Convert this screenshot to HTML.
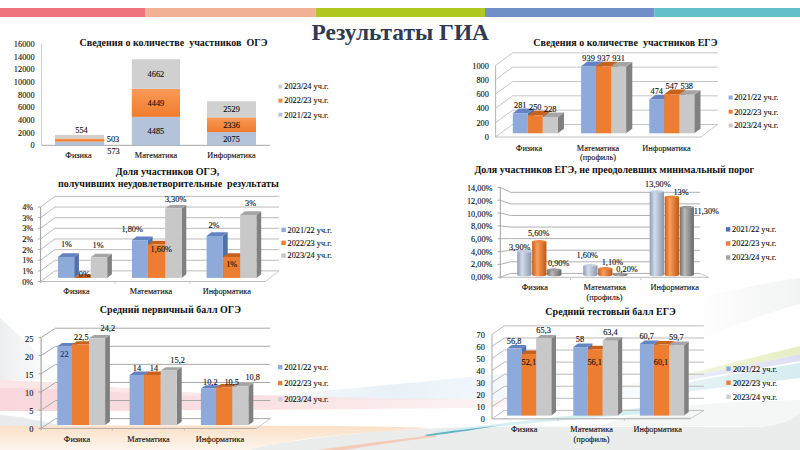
<!DOCTYPE html>
<html><head><meta charset="utf-8"><title>Результаты ГИА</title>
<style>
html,body{margin:0;padding:0;background:#fff;}
body{width:800px;height:450px;overflow:hidden;font-family:"Liberation Serif", serif;}
svg{display:block;font-family:"Liberation Serif", serif;} text{white-space:pre;}
</style></head><body>
<svg width="800" height="450" viewBox="0 0 800 450">
<rect width="800" height="450" fill="#ffffff"/>
<defs>
<linearGradient id="gPink" x1="0" x2="1" y1="0" y2="0"><stop offset="0" stop-color="#f3c9ce" stop-opacity="0.9"/><stop offset="0.5" stop-color="#f6d6d9" stop-opacity="0.7"/><stop offset="1" stop-color="#f8e0e2" stop-opacity="0.3"/></linearGradient>
<linearGradient id="gPeach" x1="0" x2="0" y1="0" y2="1"><stop offset="0" stop-color="#fde9d6"/><stop offset="1" stop-color="#fdf3e8"/></linearGradient>
<linearGradient id="gBlueBg" x1="0" x2="1" y1="0" y2="0"><stop offset="0" stop-color="#e6eef6" stop-opacity="0.9"/><stop offset="1" stop-color="#e6eef6" stop-opacity="0.2"/></linearGradient>
<linearGradient id="gRightBlue" x1="0" x2="1" y1="1" y2="0"><stop offset="0" stop-color="#d9ecf3" stop-opacity="0"/><stop offset="1" stop-color="#cfe8f0" stop-opacity="1"/></linearGradient>
<linearGradient id="gRightYel" x1="0" x2="1" y1="1" y2="0"><stop offset="0" stop-color="#eef3cf" stop-opacity="0"/><stop offset="1" stop-color="#e8efc0" stop-opacity="1"/></linearGradient>
<linearGradient id="gGrayB" x1="0" x2="0" y1="0" y2="1"><stop offset="0" stop-color="#eef0f1"/><stop offset="1" stop-color="#e9ecee"/></linearGradient>
<linearGradient id="orgV" x1="0" x2="0" y1="0" y2="1"><stop offset="0" stop-color="#f99a58"/><stop offset="1" stop-color="#f07c2c"/></linearGradient>
<linearGradient id="cylB" x1="0" x2="1" y1="0" y2="0"><stop offset="0" stop-color="#8e9db6"/><stop offset="0.35" stop-color="#d3dcea"/><stop offset="1" stop-color="#8796b0"/></linearGradient>
<linearGradient id="cylO" x1="0" x2="1" y1="0" y2="0"><stop offset="0" stop-color="#c95b12"/><stop offset="0.35" stop-color="#f9a15f"/><stop offset="1" stop-color="#c0560f"/></linearGradient>
<linearGradient id="cylG" x1="0" x2="1" y1="0" y2="0"><stop offset="0" stop-color="#6d6d6d"/><stop offset="0.35" stop-color="#b9b9b9"/><stop offset="1" stop-color="#666666"/></linearGradient>
</defs>
<linearGradient id="gP2" x1="0" x2="1" y1="0" y2="0"><stop offset="0" stop-color="#f8d8dc"/><stop offset="0.45" stop-color="#f9e0e2"/><stop offset="1" stop-color="#fbe9e9" stop-opacity="0.4"/></linearGradient>
<linearGradient id="gPe" x1="0" x2="0" y1="0" y2="1"><stop offset="0" stop-color="#fbdfc6"/><stop offset="0.5" stop-color="#fcebd9"/><stop offset="1" stop-color="#fdf5ec"/></linearGradient>
<linearGradient id="gBl" x1="0" x2="1" y1="0" y2="0"><stop offset="0" stop-color="#eaf2f8" stop-opacity="0.3"/><stop offset="0.5" stop-color="#e8f1f8"/><stop offset="1" stop-color="#eef5fa" stop-opacity="0.5"/></linearGradient>
<linearGradient id="gCy" x1="0" x2="1" y1="0" y2="0"><stop offset="0" stop-color="#deeff3" stop-opacity="0"/><stop offset="0.5" stop-color="#ddeff3" stop-opacity="0.25"/><stop offset="0.72" stop-color="#ddeff3" stop-opacity="0.85"/><stop offset="1" stop-color="#d6ecf0"/></linearGradient>
<linearGradient id="gYe" x1="0" x2="1" y1="0" y2="0"><stop offset="0" stop-color="#eef3d6" stop-opacity="0"/><stop offset="0.5" stop-color="#ecf2d2" stop-opacity="0.25"/><stop offset="0.72" stop-color="#ecf2d2" stop-opacity="0.85"/><stop offset="1" stop-color="#e6eec2"/></linearGradient>
<linearGradient id="gLa" x1="0" x2="1" y1="0" y2="0"><stop offset="0" stop-color="#e4e6f4" stop-opacity="0"/><stop offset="0.5" stop-color="#e3e6f4" stop-opacity="0.25"/><stop offset="0.72" stop-color="#e3e6f4" stop-opacity="0.85"/><stop offset="1" stop-color="#dde0f1"/></linearGradient>
<path d="M230,398 C320,392 420,382 560,368 L560,398 C420,400 320,401 230,401 Z" fill="url(#gBl)"/>
<path d="M0,380 C60,382 120,389 200,393 C300,397 420,399 560,400 L560,407 C420,408 300,410 200,410 C120,411 60,411 0,411 Z" fill="url(#gP2)"/>
<path d="M0,380 C60,382 120,389 200,393 L200,396 C120,393 60,388 0,388 Z" fill="#fbe8ea" opacity="0.8"/>
<linearGradient id="gLw" x1="0" x2="1" y1="0" y2="0"><stop offset="0" stop-color="#eceef0"/><stop offset="1" stop-color="#f4f5f6" stop-opacity="0"/></linearGradient>
<path d="M0,318 C20,335 40,358 70,380 L0,380 Z" fill="url(#gLw)"/>
<path d="M0,415 C20,416 45,422 75,428 L0,428 Z" fill="#e8ebee"/>
<path d="M600,426 C650,406 700,402 800,400 L800,413 C792,420 780,425 760,426.5 Z" fill="#f5f7f7"/>
<path d="M240,450 C280,442 330,436 380,431 C420,428.5 470,427 520,426.8 C600,427 700,427 760,427 C780,425 792,420 800,413 L800,450 Z" fill="#ebecec"/>
<path d="M0,426 C100,425 250,425.5 330,426 C380,426.5 410,427 430,428 C400,430 370,432 340,435 C300,439 270,444 250,450 L0,450 Z" fill="url(#gPe)"/>
<path d="M430,432 C500,424 560,416 640,408 L640,414 C560,420 500,426 440,433 Z" fill="#d3ecf1" opacity="0.9"/>
<path d="M318,450 C360,444 400,439 435,435 L437,436.5 C400,441 370,446 345,450 Z" fill="#f6c3ab" opacity="0.8"/>
<path d="M424,435 C450,431 475,428 505,425 L508,424.5 C480,428.5 455,433 428,436 Z" fill="#5fb3c2"/>
<linearGradient id="gTr" x1="0" x2="1" y1="0" y2="0"><stop offset="0" stop-color="#f4f4f4" stop-opacity="0"/><stop offset="1" stop-color="#f2f3f3"/></linearGradient>
<path d="M690,300 C730,290 770,282 800,278 L800,304 C770,312 735,325 690,342 Z" fill="url(#gTr)"/>
<path d="M480,400 Q640,385 700,371 Q750,358 800,346 L800,354 Q750,365 700,374 Q640,388 480,401 Z" fill="url(#gYe)"/>
<path d="M480,401 Q640,388 700,374 Q750,365 800,354 L800,361 Q750,370 700,378 Q640,391 480,402 Z" fill="url(#gLa)"/>
<path d="M470,402 Q640,392 700,380 Q750,371 800,363 L800,378 Q750,384 700,390 Q640,398 470,406 Z" fill="url(#gCy)"/>
<rect x="0.00" y="8.00" width="145.50" height="9.00" fill="#ee737b" />
<rect x="145.50" y="8.00" width="170.00" height="9.00" fill="#f2b094" />
<rect x="315.50" y="8.00" width="169.50" height="9.00" fill="#b0c820" />
<rect x="485.00" y="8.00" width="169.50" height="9.00" fill="#7290c8" />
<rect x="654.50" y="8.00" width="145.50" height="9.00" fill="#64c0c8" />
<text x="400.3" y="40.1" font-size="23.4" text-anchor="middle" font-weight="bold" fill="#2e3a50">Результаты ГИА</text>
<text x="173.5" y="45.9" font-size="10" text-anchor="middle" font-weight="bold" fill="#111111">Сведения о количестве  участников  ОГЭ</text>
<text x="34.6" y="148.3" font-size="8.3" text-anchor="end" font-weight="normal" fill="#111111" stroke="#111111" stroke-width="0.12">0</text>
<text x="34.6" y="135.6" font-size="8.3" text-anchor="end" font-weight="normal" fill="#111111" stroke="#111111" stroke-width="0.12">2000</text>
<text x="34.6" y="123.0" font-size="8.3" text-anchor="end" font-weight="normal" fill="#111111" stroke="#111111" stroke-width="0.12">4000</text>
<text x="34.6" y="110.3" font-size="8.3" text-anchor="end" font-weight="normal" fill="#111111" stroke="#111111" stroke-width="0.12">6000</text>
<text x="34.6" y="97.7" font-size="8.3" text-anchor="end" font-weight="normal" fill="#111111" stroke="#111111" stroke-width="0.12">8000</text>
<text x="34.6" y="85.0" font-size="8.3" text-anchor="end" font-weight="normal" fill="#111111" stroke="#111111" stroke-width="0.12">10000</text>
<text x="34.6" y="72.4" font-size="8.3" text-anchor="end" font-weight="normal" fill="#111111" stroke="#111111" stroke-width="0.12">12000</text>
<text x="34.6" y="59.7" font-size="8.3" text-anchor="end" font-weight="normal" fill="#111111" stroke="#111111" stroke-width="0.12">14000</text>
<text x="34.6" y="47.1" font-size="8.3" text-anchor="end" font-weight="normal" fill="#111111" stroke="#111111" stroke-width="0.12">16000</text>
<line x1="41.60" y1="43.50" x2="41.60" y2="145.30" stroke="#c8c8c8" stroke-width="0.9"/>
<line x1="41.60" y1="145.30" x2="270.00" y2="145.30" stroke="#a6a6a6" stroke-width="1.0"/>
<rect x="55.00" y="141.58" width="49.20" height="3.62" fill="#b4c3d9" />
<rect x="55.00" y="138.39" width="49.20" height="3.18" fill="url(#orgV)" />
<rect x="55.00" y="134.89" width="49.20" height="3.50" fill="#d0d0d0" />
<rect x="131.80" y="116.83" width="48.20" height="28.37" fill="#b4c3d9" />
<rect x="131.80" y="88.69" width="48.20" height="28.14" fill="url(#orgV)" />
<rect x="131.80" y="59.21" width="48.20" height="29.49" fill="#d0d0d0" />
<rect x="207.00" y="132.08" width="49.00" height="13.12" fill="#b4c3d9" />
<rect x="207.00" y="117.30" width="49.00" height="14.78" fill="url(#orgV)" />
<rect x="207.00" y="101.30" width="49.00" height="16.00" fill="#d0d0d0" />
<text x="81.5" y="133.3" font-size="8.3" text-anchor="middle" font-weight="normal" fill="#111111" stroke="#111111" stroke-width="0.12">554</text>
<text x="113.0" y="142.3" font-size="8.3" text-anchor="middle" font-weight="normal" fill="#111111" stroke="#111111" stroke-width="0.12">503</text>
<text x="113.5" y="154.4" font-size="8.3" text-anchor="middle" font-weight="normal" fill="#111111" stroke="#111111" stroke-width="0.12">573</text>
<text x="155.9" y="134.1" font-size="8.3" text-anchor="middle" font-weight="normal" fill="#111111" stroke="#111111" stroke-width="0.12">4485</text>
<text x="155.9" y="105.8" font-size="8.3" text-anchor="middle" font-weight="normal" fill="#111111" stroke="#111111" stroke-width="0.12">4449</text>
<text x="155.9" y="77.0" font-size="8.3" text-anchor="middle" font-weight="normal" fill="#111111" stroke="#111111" stroke-width="0.12">4662</text>
<text x="231.5" y="141.7" font-size="8.3" text-anchor="middle" font-weight="normal" fill="#111111" stroke="#111111" stroke-width="0.12">2075</text>
<text x="231.5" y="127.8" font-size="8.3" text-anchor="middle" font-weight="normal" fill="#111111" stroke="#111111" stroke-width="0.12">2336</text>
<text x="231.5" y="112.4" font-size="8.3" text-anchor="middle" font-weight="normal" fill="#111111" stroke="#111111" stroke-width="0.12">2529</text>
<text x="78.5" y="158.2" font-size="8.3" text-anchor="middle" font-weight="normal" fill="#111111" stroke="#111111" stroke-width="0.12">Физика</text>
<text x="156.0" y="158.2" font-size="8.3" text-anchor="middle" font-weight="normal" fill="#111111" stroke="#111111" stroke-width="0.12">Математика</text>
<text x="231.5" y="158.2" font-size="8.3" text-anchor="middle" font-weight="normal" fill="#111111" stroke="#111111" stroke-width="0.12">Информатика</text>
<rect x="278.40" y="84.50" width="4.00" height="4.00" fill="#d0d0d0" />
<text x="284.3" y="89.3" font-size="8.3" text-anchor="start" font-weight="normal" fill="#111111" stroke="#111111" stroke-width="0.12">2023/24 уч.г.</text>
<rect x="278.40" y="98.60" width="4.00" height="4.00" fill="#f4893c" />
<text x="284.3" y="103.4" font-size="8.3" text-anchor="start" font-weight="normal" fill="#111111" stroke="#111111" stroke-width="0.12">2022/23 уч.г.</text>
<rect x="278.40" y="112.70" width="4.00" height="4.00" fill="#b4c3d9" />
<text x="284.3" y="117.5" font-size="8.3" text-anchor="start" font-weight="normal" fill="#111111" stroke="#111111" stroke-width="0.12">2021/22 уч.г.</text>
<text x="625.4" y="45.8" font-size="10" text-anchor="middle" font-weight="bold" fill="#111111">Сведения о количестве  участников ЕГЭ</text>
<line x1="495.60" y1="136.80" x2="512.70" y2="124.50" stroke="#c6c6c6" stroke-width="1.0"/>
<line x1="512.70" y1="124.50" x2="717.90" y2="124.50" stroke="#c6c6c6" stroke-width="1.0"/>
<text x="488.9" y="139.9" font-size="8.3" text-anchor="end" font-weight="normal" fill="#111111" stroke="#111111" stroke-width="0.12">0</text>
<line x1="495.60" y1="122.52" x2="512.70" y2="110.16" stroke="#c6c6c6" stroke-width="1.0"/>
<line x1="512.70" y1="110.16" x2="717.90" y2="110.16" stroke="#c6c6c6" stroke-width="1.0"/>
<text x="488.9" y="125.6" font-size="8.3" text-anchor="end" font-weight="normal" fill="#111111" stroke="#111111" stroke-width="0.12">200</text>
<line x1="495.60" y1="108.24" x2="512.70" y2="95.82" stroke="#c6c6c6" stroke-width="1.0"/>
<line x1="512.70" y1="95.82" x2="717.90" y2="95.82" stroke="#c6c6c6" stroke-width="1.0"/>
<text x="488.9" y="111.3" font-size="8.3" text-anchor="end" font-weight="normal" fill="#111111" stroke="#111111" stroke-width="0.12">400</text>
<line x1="495.60" y1="93.96" x2="512.70" y2="81.48" stroke="#c6c6c6" stroke-width="1.0"/>
<line x1="512.70" y1="81.48" x2="717.90" y2="81.48" stroke="#c6c6c6" stroke-width="1.0"/>
<text x="488.9" y="97.0" font-size="8.3" text-anchor="end" font-weight="normal" fill="#111111" stroke="#111111" stroke-width="0.12">600</text>
<line x1="495.60" y1="79.68" x2="512.70" y2="67.14" stroke="#c6c6c6" stroke-width="1.0"/>
<line x1="512.70" y1="67.14" x2="717.90" y2="67.14" stroke="#c6c6c6" stroke-width="1.0"/>
<text x="488.9" y="82.8" font-size="8.3" text-anchor="end" font-weight="normal" fill="#111111" stroke="#111111" stroke-width="0.12">800</text>
<line x1="495.60" y1="65.40" x2="512.70" y2="52.80" stroke="#c6c6c6" stroke-width="1.0"/>
<line x1="512.70" y1="52.80" x2="717.90" y2="52.80" stroke="#c6c6c6" stroke-width="1.0"/>
<text x="488.9" y="68.5" font-size="8.3" text-anchor="end" font-weight="normal" fill="#111111" stroke="#111111" stroke-width="0.12">1000</text>
<line x1="495.60" y1="65.40" x2="495.60" y2="137.30" stroke="#b8b8b8" stroke-width="1.1"/>
<line x1="495.60" y1="137.00" x2="700.80" y2="137.00" stroke="#bfbfbf" stroke-width="1.0"/>
<line x1="700.80" y1="137.00" x2="717.90" y2="124.20" stroke="#bfbfbf" stroke-width="0.8"/>
<polygon points="527.80,113.20 534.00,108.60 534.00,128.70 527.80,133.30" fill="#5070aa" />
<polygon points="512.80,113.20 519.00,108.60 534.00,108.60 527.80,113.20" fill="#6283c0" />
<rect x="512.80" y="113.20" width="15.00" height="20.10" fill="#8eaadb" />
<polygon points="542.80,115.42 549.00,110.82 549.00,128.70 542.80,133.30" fill="#b35516" />
<polygon points="527.80,115.42 534.00,110.82 549.00,110.82 542.80,115.42" fill="#c4621e" />
<rect x="527.80" y="115.42" width="15.00" height="17.88" fill="#ed7d31" />
<polygon points="557.80,116.99 564.00,112.39 564.00,128.70 557.80,133.30" fill="#808080" />
<polygon points="542.80,116.99 549.00,112.39 564.00,112.39 557.80,116.99" fill="#a5a5a5" />
<rect x="542.80" y="116.99" width="15.00" height="16.31" fill="#c8c8c8" />
<text x="520.3" y="107.7" font-size="8.3" text-anchor="middle" font-weight="normal" fill="#111111" stroke="#111111" stroke-width="0.12">281</text>
<text x="535.3" y="109.9" font-size="8.3" text-anchor="middle" font-weight="normal" fill="#111111" stroke="#111111" stroke-width="0.12">250</text>
<text x="550.3" y="111.5" font-size="8.3" text-anchor="middle" font-weight="normal" fill="#111111" stroke="#111111" stroke-width="0.12">228</text>
<polygon points="596.10,66.13 602.30,61.53 602.30,128.70 596.10,133.30" fill="#5070aa" />
<polygon points="581.10,66.13 587.30,61.53 602.30,61.53 596.10,66.13" fill="#6283c0" />
<rect x="581.10" y="66.13" width="15.00" height="67.17" fill="#8eaadb" />
<polygon points="611.10,66.28 617.30,61.68 617.30,128.70 611.10,133.30" fill="#b35516" />
<polygon points="596.10,66.28 602.30,61.68 617.30,61.68 611.10,66.28" fill="#c4621e" />
<rect x="596.10" y="66.28" width="15.00" height="67.02" fill="#ed7d31" />
<polygon points="626.10,66.71 632.30,62.11 632.30,128.70 626.10,133.30" fill="#808080" />
<polygon points="611.10,66.71 617.30,62.11 632.30,62.11 626.10,66.71" fill="#a5a5a5" />
<rect x="611.10" y="66.71" width="15.00" height="66.59" fill="#c8c8c8" />
<text x="588.6" y="60.6" font-size="8.3" text-anchor="middle" font-weight="normal" fill="#111111" stroke="#111111" stroke-width="0.12">939</text>
<text x="603.6" y="60.7" font-size="8.3" text-anchor="middle" font-weight="normal" fill="#111111" stroke="#111111" stroke-width="0.12">937</text>
<text x="618.6" y="61.2" font-size="8.3" text-anchor="middle" font-weight="normal" fill="#111111" stroke="#111111" stroke-width="0.12">931</text>
<polygon points="664.30,99.39 670.50,94.79 670.50,128.70 664.30,133.30" fill="#5070aa" />
<polygon points="649.30,99.39 655.50,94.79 670.50,94.79 664.30,99.39" fill="#6283c0" />
<rect x="649.30" y="99.39" width="15.00" height="33.91" fill="#8eaadb" />
<polygon points="679.30,94.17 685.50,89.57 685.50,128.70 679.30,133.30" fill="#b35516" />
<polygon points="664.30,94.17 670.50,89.57 685.50,89.57 679.30,94.17" fill="#c4621e" />
<rect x="664.30" y="94.17" width="15.00" height="39.13" fill="#ed7d31" />
<polygon points="694.30,94.82 700.50,90.22 700.50,128.70 694.30,133.30" fill="#808080" />
<polygon points="679.30,94.82 685.50,90.22 700.50,90.22 694.30,94.82" fill="#a5a5a5" />
<rect x="679.30" y="94.82" width="15.00" height="38.48" fill="#c8c8c8" />
<text x="656.8" y="93.9" font-size="8.3" text-anchor="middle" font-weight="normal" fill="#111111" stroke="#111111" stroke-width="0.12">474</text>
<text x="671.8" y="88.6" font-size="8.3" text-anchor="middle" font-weight="normal" fill="#111111" stroke="#111111" stroke-width="0.12">547</text>
<text x="686.8" y="89.3" font-size="8.3" text-anchor="middle" font-weight="normal" fill="#111111" stroke="#111111" stroke-width="0.12">538</text>
<text x="529.0" y="150.9" font-size="8.3" text-anchor="middle" font-weight="normal" fill="#111111" stroke="#111111" stroke-width="0.12">Физика</text>
<text x="598.0" y="150.9" font-size="8.3" text-anchor="middle" font-weight="normal" fill="#111111" stroke="#111111" stroke-width="0.12">Математика</text>
<text x="666.5" y="150.9" font-size="8.3" text-anchor="middle" font-weight="normal" fill="#111111" stroke="#111111" stroke-width="0.12">Информатика</text>
<text x="598.0" y="159.7" font-size="8.3" text-anchor="middle" font-weight="normal" fill="#111111" stroke="#111111" stroke-width="0.12">(профиль)</text>
<rect x="728.60" y="95.50" width="4.00" height="4.00" fill="#8eaadb" />
<text x="734.2" y="100.3" font-size="8.3" text-anchor="start" font-weight="normal" fill="#111111" stroke="#111111" stroke-width="0.12">2021/22 уч.г.</text>
<rect x="728.60" y="109.70" width="4.00" height="4.00" fill="#ed7d31" />
<text x="734.2" y="114.5" font-size="8.3" text-anchor="start" font-weight="normal" fill="#111111" stroke="#111111" stroke-width="0.12">2022/23 уч.г.</text>
<rect x="728.60" y="123.50" width="4.00" height="4.00" fill="#c8c8c8" />
<text x="734.2" y="128.3" font-size="8.3" text-anchor="start" font-weight="normal" fill="#111111" stroke="#111111" stroke-width="0.12">2023/24 уч.г.</text>
<text x="167.5" y="175.4" font-size="10" text-anchor="middle" font-weight="bold" fill="#111111">Доля участников ОГЭ,</text>
<text x="168.4" y="187.1" font-size="10" text-anchor="middle" font-weight="bold" fill="#111111">получивших неудовлетворительные  результаты</text>
<line x1="40.60" y1="281.50" x2="54.90" y2="270.90" stroke="#bcbcbc" stroke-width="1.0"/>
<line x1="54.90" y1="270.90" x2="279.00" y2="270.90" stroke="#bcbcbc" stroke-width="1.0"/>
<text x="33.2" y="284.6" font-size="8.3" text-anchor="end" font-weight="normal" fill="#111111" stroke="#111111" stroke-width="0.12">0%</text>
<line x1="37.80" y1="281.50" x2="40.60" y2="281.50" stroke="#a0a0a0" stroke-width="0.9"/>
<line x1="40.60" y1="270.86" x2="54.90" y2="260.26" stroke="#bcbcbc" stroke-width="1.0"/>
<line x1="54.90" y1="260.26" x2="279.00" y2="260.26" stroke="#bcbcbc" stroke-width="1.0"/>
<text x="33.2" y="273.9" font-size="8.3" text-anchor="end" font-weight="normal" fill="#111111" stroke="#111111" stroke-width="0.12">1%</text>
<line x1="37.80" y1="270.86" x2="40.60" y2="270.86" stroke="#a0a0a0" stroke-width="0.9"/>
<line x1="40.60" y1="260.21" x2="54.90" y2="249.61" stroke="#bcbcbc" stroke-width="1.0"/>
<line x1="54.90" y1="249.61" x2="279.00" y2="249.61" stroke="#bcbcbc" stroke-width="1.0"/>
<text x="33.2" y="263.3" font-size="8.3" text-anchor="end" font-weight="normal" fill="#111111" stroke="#111111" stroke-width="0.12">1%</text>
<line x1="37.80" y1="260.21" x2="40.60" y2="260.21" stroke="#a0a0a0" stroke-width="0.9"/>
<line x1="40.60" y1="249.57" x2="54.90" y2="238.97" stroke="#bcbcbc" stroke-width="1.0"/>
<line x1="54.90" y1="238.97" x2="279.00" y2="238.97" stroke="#bcbcbc" stroke-width="1.0"/>
<text x="33.2" y="252.6" font-size="8.3" text-anchor="end" font-weight="normal" fill="#111111" stroke="#111111" stroke-width="0.12">2%</text>
<line x1="37.80" y1="249.57" x2="40.60" y2="249.57" stroke="#a0a0a0" stroke-width="0.9"/>
<line x1="40.60" y1="238.93" x2="54.90" y2="228.33" stroke="#bcbcbc" stroke-width="1.0"/>
<line x1="54.90" y1="228.33" x2="279.00" y2="228.33" stroke="#bcbcbc" stroke-width="1.0"/>
<text x="33.2" y="242.0" font-size="8.3" text-anchor="end" font-weight="normal" fill="#111111" stroke="#111111" stroke-width="0.12">2%</text>
<line x1="37.80" y1="238.93" x2="40.60" y2="238.93" stroke="#a0a0a0" stroke-width="0.9"/>
<line x1="40.60" y1="228.29" x2="54.90" y2="217.69" stroke="#bcbcbc" stroke-width="1.0"/>
<line x1="54.90" y1="217.69" x2="279.00" y2="217.69" stroke="#bcbcbc" stroke-width="1.0"/>
<text x="33.2" y="231.4" font-size="8.3" text-anchor="end" font-weight="normal" fill="#111111" stroke="#111111" stroke-width="0.12">3%</text>
<line x1="37.80" y1="228.29" x2="40.60" y2="228.29" stroke="#a0a0a0" stroke-width="0.9"/>
<line x1="40.60" y1="217.64" x2="54.90" y2="207.04" stroke="#bcbcbc" stroke-width="1.0"/>
<line x1="54.90" y1="207.04" x2="279.00" y2="207.04" stroke="#bcbcbc" stroke-width="1.0"/>
<text x="33.2" y="220.7" font-size="8.3" text-anchor="end" font-weight="normal" fill="#111111" stroke="#111111" stroke-width="0.12">3%</text>
<line x1="37.80" y1="217.64" x2="40.60" y2="217.64" stroke="#a0a0a0" stroke-width="0.9"/>
<line x1="40.60" y1="207.00" x2="54.90" y2="196.40" stroke="#bcbcbc" stroke-width="1.0"/>
<line x1="54.90" y1="196.40" x2="279.00" y2="196.40" stroke="#bcbcbc" stroke-width="1.0"/>
<text x="33.2" y="210.1" font-size="8.3" text-anchor="end" font-weight="normal" fill="#111111" stroke="#111111" stroke-width="0.12">4%</text>
<line x1="37.80" y1="207.00" x2="40.60" y2="207.00" stroke="#a0a0a0" stroke-width="0.9"/>
<line x1="40.60" y1="207.00" x2="40.60" y2="283.00" stroke="#a0a0a0" stroke-width="1.0"/>
<line x1="40.60" y1="281.50" x2="265.10" y2="281.50" stroke="#bfbfbf" stroke-width="1.0"/>
<line x1="265.10" y1="281.50" x2="279.00" y2="271.00" stroke="#bfbfbf" stroke-width="0.8"/>
<line x1="115.00" y1="281.50" x2="115.00" y2="284.00" stroke="#bfbfbf" stroke-width="0.8"/>
<line x1="190.00" y1="281.50" x2="190.00" y2="284.00" stroke="#bfbfbf" stroke-width="0.8"/>
<polygon points="74.20,256.90 78.90,253.30 78.90,274.30 74.20,277.90" fill="#5070aa" />
<polygon points="58.00,256.90 62.70,253.30 78.90,253.30 74.20,256.90" fill="#6283c0" />
<rect x="58.00" y="256.90" width="16.20" height="21.00" fill="#8eaadb" />
<polygon points="90.80,277.90 95.50,274.30 95.50,274.30 90.80,277.90" fill="#b35516" />
<polygon points="74.20,277.90 78.90,274.30 95.50,274.30 90.80,277.90" fill="#c4621e" />
<rect x="74.20" y="277.90" width="16.60" height="0.00" fill="#ed7d31" />
<polygon points="107.20,257.32 111.90,253.72 111.90,274.30 107.20,277.90" fill="#808080" />
<polygon points="90.80,257.32 95.50,253.72 111.90,253.72 107.20,257.32" fill="#a5a5a5" />
<rect x="90.80" y="257.32" width="16.40" height="20.58" fill="#c8c8c8" />
<polygon points="147.90,240.10 152.60,236.50 152.60,274.30 147.90,277.90" fill="#5070aa" />
<polygon points="132.00,240.10 136.70,236.50 152.60,236.50 147.90,240.10" fill="#6283c0" />
<rect x="132.00" y="240.10" width="15.90" height="37.80" fill="#8eaadb" />
<polygon points="165.20,244.30 169.90,240.70 169.90,274.30 165.20,277.90" fill="#b35516" />
<polygon points="147.90,244.30 152.60,240.70 169.90,240.70 165.20,244.30" fill="#c4621e" />
<rect x="147.90" y="244.30" width="17.30" height="33.60" fill="#ed7d31" />
<polygon points="181.60,208.60 186.30,205.00 186.30,274.30 181.60,277.90" fill="#808080" />
<polygon points="165.20,208.60 169.90,205.00 186.30,205.00 181.60,208.60" fill="#a5a5a5" />
<rect x="165.20" y="208.60" width="16.40" height="69.30" fill="#c8c8c8" />
<polygon points="222.90,235.90 227.70,232.30 227.70,274.30 222.90,277.90" fill="#5070aa" />
<polygon points="206.60,235.90 211.40,232.30 227.70,232.30 222.90,235.90" fill="#6283c0" />
<rect x="206.60" y="235.90" width="16.30" height="42.00" fill="#8eaadb" />
<polygon points="240.10,256.90 244.90,253.30 244.90,274.30 240.10,277.90" fill="#b35516" />
<polygon points="222.90,256.90 227.70,253.30 244.90,253.30 240.10,256.90" fill="#c4621e" />
<rect x="222.90" y="256.90" width="17.20" height="21.00" fill="#ed7d31" />
<polygon points="256.40,214.90 261.20,211.30 261.20,274.30 256.40,277.90" fill="#808080" />
<polygon points="240.10,214.90 244.90,211.30 261.20,211.30 256.40,214.90" fill="#a5a5a5" />
<rect x="240.10" y="214.90" width="16.30" height="63.00" fill="#c8c8c8" />
<text x="66.5" y="247.3" font-size="8.3" text-anchor="middle" font-weight="normal" fill="#111111" stroke="#111111" stroke-width="0.12">1%</text>
<text x="84.4" y="276.6" font-size="8.3" text-anchor="middle" font-weight="normal" fill="#111111" stroke="#111111" stroke-width="0.12">0%</text>
<text x="98.1" y="248.3" font-size="8.3" text-anchor="middle" font-weight="normal" fill="#111111" stroke="#111111" stroke-width="0.12">1%</text>
<text x="132.2" y="231.9" font-size="8.3" text-anchor="middle" font-weight="normal" fill="#111111" stroke="#111111" stroke-width="0.12">1,80%</text>
<text x="161.3" y="252.2" font-size="8.3" text-anchor="middle" font-weight="normal" fill="#111111" stroke="#111111" stroke-width="0.12">1,60%</text>
<text x="175.6" y="201.6" font-size="8.3" text-anchor="middle" font-weight="normal" fill="#111111" stroke="#111111" stroke-width="0.12">3,30%</text>
<text x="214.0" y="228.4" font-size="8.3" text-anchor="middle" font-weight="normal" fill="#111111" stroke="#111111" stroke-width="0.12">2%</text>
<text x="231.7" y="267.4" font-size="8.3" text-anchor="middle" font-weight="normal" fill="#111111" stroke="#111111" stroke-width="0.12">1%</text>
<text x="250.6" y="205.6" font-size="8.3" text-anchor="middle" font-weight="normal" fill="#111111" stroke="#111111" stroke-width="0.12">3%</text>
<text x="76.5" y="294.4" font-size="8.3" text-anchor="middle" font-weight="normal" fill="#111111" stroke="#111111" stroke-width="0.12">Физика</text>
<text x="151.0" y="294.4" font-size="8.3" text-anchor="middle" font-weight="normal" fill="#111111" stroke="#111111" stroke-width="0.12">Математика</text>
<text x="226.8" y="294.4" font-size="8.3" text-anchor="middle" font-weight="normal" fill="#111111" stroke="#111111" stroke-width="0.12">Информатика</text>
<rect x="281.40" y="227.70" width="4.40" height="4.40" fill="#8eaadb" />
<text x="287.5" y="232.7" font-size="8.3" text-anchor="start" font-weight="normal" fill="#111111" stroke="#111111" stroke-width="0.12">2021/22 уч.г.</text>
<rect x="281.40" y="240.70" width="4.40" height="4.40" fill="#ed7d31" />
<text x="287.5" y="245.7" font-size="8.3" text-anchor="start" font-weight="normal" fill="#111111" stroke="#111111" stroke-width="0.12">2022/23 уч.г.</text>
<rect x="281.40" y="253.40" width="4.40" height="4.40" fill="#c8c8c8" />
<text x="287.5" y="258.4" font-size="8.3" text-anchor="start" font-weight="normal" fill="#111111" stroke="#111111" stroke-width="0.12">2023/24 уч.г.</text>
<text x="614.3" y="172.8" font-size="10" text-anchor="middle" font-weight="bold" fill="#111111">Доля участников ЕГЭ, не преодолевших минимальный порог</text>
<line x1="500.30" y1="277.20" x2="510.50" y2="273.40" stroke="#b0b0b0" stroke-width="1.0"/>
<line x1="510.50" y1="273.40" x2="700.00" y2="273.40" stroke="#b0b0b0" stroke-width="1.0"/>
<text x="492.5" y="280.0" font-size="8.3" text-anchor="end" font-weight="normal" fill="#111111" stroke="#111111" stroke-width="0.12">0,00%</text>
<line x1="497.70" y1="277.20" x2="500.30" y2="277.20" stroke="#a0a0a0" stroke-width="0.9"/>
<line x1="500.30" y1="264.37" x2="510.50" y2="261.81" stroke="#b0b0b0" stroke-width="1.0"/>
<line x1="510.50" y1="261.81" x2="700.00" y2="261.81" stroke="#b0b0b0" stroke-width="1.0"/>
<text x="492.5" y="267.3" font-size="8.3" text-anchor="end" font-weight="normal" fill="#111111" stroke="#111111" stroke-width="0.12">2,00%</text>
<line x1="497.70" y1="264.37" x2="500.30" y2="264.37" stroke="#a0a0a0" stroke-width="0.9"/>
<line x1="500.30" y1="251.54" x2="510.50" y2="250.23" stroke="#b0b0b0" stroke-width="1.0"/>
<line x1="510.50" y1="250.23" x2="700.00" y2="250.23" stroke="#b0b0b0" stroke-width="1.0"/>
<text x="492.5" y="254.6" font-size="8.3" text-anchor="end" font-weight="normal" fill="#111111" stroke="#111111" stroke-width="0.12">4,00%</text>
<line x1="497.70" y1="251.54" x2="500.30" y2="251.54" stroke="#a0a0a0" stroke-width="0.9"/>
<line x1="500.30" y1="238.71" x2="510.50" y2="238.64" stroke="#b0b0b0" stroke-width="1.0"/>
<line x1="510.50" y1="238.64" x2="700.00" y2="238.64" stroke="#b0b0b0" stroke-width="1.0"/>
<text x="492.5" y="242.0" font-size="8.3" text-anchor="end" font-weight="normal" fill="#111111" stroke="#111111" stroke-width="0.12">6,00%</text>
<line x1="497.70" y1="238.71" x2="500.30" y2="238.71" stroke="#a0a0a0" stroke-width="0.9"/>
<line x1="500.30" y1="225.89" x2="510.50" y2="227.06" stroke="#b0b0b0" stroke-width="1.0"/>
<line x1="510.50" y1="227.06" x2="700.00" y2="227.06" stroke="#b0b0b0" stroke-width="1.0"/>
<text x="492.5" y="229.3" font-size="8.3" text-anchor="end" font-weight="normal" fill="#111111" stroke="#111111" stroke-width="0.12">8,00%</text>
<line x1="497.70" y1="225.89" x2="500.30" y2="225.89" stroke="#a0a0a0" stroke-width="0.9"/>
<line x1="500.30" y1="213.06" x2="510.50" y2="215.47" stroke="#b0b0b0" stroke-width="1.0"/>
<line x1="510.50" y1="215.47" x2="700.00" y2="215.47" stroke="#b0b0b0" stroke-width="1.0"/>
<text x="492.5" y="216.6" font-size="8.3" text-anchor="end" font-weight="normal" fill="#111111" stroke="#111111" stroke-width="0.12">10,00%</text>
<line x1="497.70" y1="213.06" x2="500.30" y2="213.06" stroke="#a0a0a0" stroke-width="0.9"/>
<line x1="500.30" y1="200.23" x2="510.50" y2="203.89" stroke="#b0b0b0" stroke-width="1.0"/>
<line x1="510.50" y1="203.89" x2="700.00" y2="203.89" stroke="#b0b0b0" stroke-width="1.0"/>
<text x="492.5" y="203.9" font-size="8.3" text-anchor="end" font-weight="normal" fill="#111111" stroke="#111111" stroke-width="0.12">12,00%</text>
<line x1="497.70" y1="200.23" x2="500.30" y2="200.23" stroke="#a0a0a0" stroke-width="0.9"/>
<line x1="500.30" y1="187.40" x2="510.50" y2="192.30" stroke="#b0b0b0" stroke-width="1.0"/>
<line x1="510.50" y1="192.30" x2="700.00" y2="192.30" stroke="#b0b0b0" stroke-width="1.0"/>
<text x="492.5" y="191.3" font-size="8.3" text-anchor="end" font-weight="normal" fill="#111111" stroke="#111111" stroke-width="0.12">14,00%</text>
<line x1="497.70" y1="187.40" x2="500.30" y2="187.40" stroke="#a0a0a0" stroke-width="0.9"/>
<line x1="500.30" y1="187.40" x2="500.30" y2="278.70" stroke="#a0a0a0" stroke-width="1.0"/>
<line x1="500.30" y1="277.30" x2="708.50" y2="277.30" stroke="#bfbfbf" stroke-width="1.0"/>
<line x1="708.50" y1="277.30" x2="700.00" y2="273.40" stroke="#bfbfbf" stroke-width="0.8"/>
<line x1="570.40" y1="277.60" x2="570.40" y2="280.00" stroke="#bfbfbf" stroke-width="0.8"/>
<line x1="640.90" y1="277.60" x2="640.90" y2="280.00" stroke="#bfbfbf" stroke-width="0.8"/>
<path d="M517.20,251.56 L517.20,275.0 A7.15,1.3 0 0 0 531.50,275.0 L531.50,251.56 Z" fill="url(#cylB)"/>
<ellipse cx="524.35" cy="251.56" rx="7.15" ry="1.3" fill="#c5cfdf"/>
<path d="M532.15,241.34 L532.15,275.0 A7.15,1.3 0 0 0 546.45,275.0 L546.45,241.34 Z" fill="url(#cylO)"/>
<ellipse cx="539.30" cy="241.34" rx="7.15" ry="1.3" fill="#e8853f"/>
<path d="M547.10,269.59 L547.10,275.0 A7.15,1.3 0 0 0 561.40,275.0 L561.40,269.59 Z" fill="url(#cylG)"/>
<ellipse cx="554.25" cy="269.59" rx="7.15" ry="1.3" fill="#9a9a9a"/>
<path d="M583.20,265.38 L583.20,275.0 A7.15,1.3 0 0 0 597.50,275.0 L597.50,265.38 Z" fill="url(#cylB)"/>
<ellipse cx="590.35" cy="265.38" rx="7.15" ry="1.3" fill="#c5cfdf"/>
<path d="M598.15,268.39 L598.15,275.0 A7.15,1.3 0 0 0 612.45,275.0 L612.45,268.39 Z" fill="url(#cylO)"/>
<ellipse cx="605.30" cy="268.39" rx="7.15" ry="1.3" fill="#e8853f"/>
<path d="M613.10,273.80 L613.10,275.0 A7.15,1.3 0 0 0 627.40,275.0 L627.40,273.80 Z" fill="url(#cylG)"/>
<ellipse cx="620.25" cy="273.80" rx="7.15" ry="1.3" fill="#9a9a9a"/>
<path d="M649.70,191.46 L649.70,275.0 A7.15,1.3 0 0 0 664.00,275.0 L664.00,191.46 Z" fill="url(#cylB)"/>
<ellipse cx="656.85" cy="191.46" rx="7.15" ry="1.3" fill="#c5cfdf"/>
<path d="M664.65,196.87 L664.65,275.0 A7.15,1.3 0 0 0 678.95,275.0 L678.95,196.87 Z" fill="url(#cylO)"/>
<ellipse cx="671.80" cy="196.87" rx="7.15" ry="1.3" fill="#e8853f"/>
<path d="M679.60,207.09 L679.60,275.0 A7.15,1.3 0 0 0 693.90,275.0 L693.90,207.09 Z" fill="url(#cylG)"/>
<ellipse cx="686.75" cy="207.09" rx="7.15" ry="1.3" fill="#9a9a9a"/>
<text x="519.8" y="250.1" font-size="8.3" text-anchor="middle" font-weight="normal" fill="#111111" stroke="#111111" stroke-width="0.12">3,90%</text>
<text x="538.7" y="236.3" font-size="8.3" text-anchor="middle" font-weight="normal" fill="#111111" stroke="#111111" stroke-width="0.12">5,60%</text>
<text x="558.7" y="266.0" font-size="8.3" text-anchor="middle" font-weight="normal" fill="#111111" stroke="#111111" stroke-width="0.12">0,90%</text>
<text x="587.3" y="258.3" font-size="8.3" text-anchor="middle" font-weight="normal" fill="#111111" stroke="#111111" stroke-width="0.12">1,60%</text>
<text x="612.4" y="264.8" font-size="8.3" text-anchor="middle" font-weight="normal" fill="#111111" stroke="#111111" stroke-width="0.12">1,10%</text>
<text x="627.0" y="271.8" font-size="8.3" text-anchor="middle" font-weight="normal" fill="#111111" stroke="#111111" stroke-width="0.12">0,20%</text>
<text x="657.9" y="186.6" font-size="8.3" text-anchor="middle" font-weight="normal" fill="#111111" stroke="#111111" stroke-width="0.12">13,90%</text>
<text x="681.0" y="195.2" font-size="8.3" text-anchor="middle" font-weight="normal" fill="#111111" stroke="#111111" stroke-width="0.12">13%</text>
<text x="706.4" y="214.1" font-size="8.3" text-anchor="middle" font-weight="normal" fill="#111111" stroke="#111111" stroke-width="0.12">11,30%</text>
<text x="534.8" y="290.3" font-size="8.3" text-anchor="middle" font-weight="normal" fill="#111111" stroke="#111111" stroke-width="0.12">Физика</text>
<text x="604.8" y="290.3" font-size="8.3" text-anchor="middle" font-weight="normal" fill="#111111" stroke="#111111" stroke-width="0.12">Математика</text>
<text x="674.7" y="290.3" font-size="8.3" text-anchor="middle" font-weight="normal" fill="#111111" stroke="#111111" stroke-width="0.12">Информатика</text>
<text x="604.5" y="300.0" font-size="8.3" text-anchor="middle" font-weight="normal" fill="#111111" stroke="#111111" stroke-width="0.12">(профиль)</text>
<rect x="725.90" y="227.20" width="4.40" height="4.40" fill="#4472c4" />
<text x="732.1" y="232.2" font-size="8.3" text-anchor="start" font-weight="normal" fill="#111111" stroke="#111111" stroke-width="0.12">2021/22 уч.г.</text>
<rect x="725.90" y="241.30" width="4.40" height="4.40" fill="#ed7d31" />
<text x="732.1" y="246.3" font-size="8.3" text-anchor="start" font-weight="normal" fill="#111111" stroke="#111111" stroke-width="0.12">2022/23 уч.г.</text>
<rect x="725.90" y="255.30" width="4.40" height="4.40" fill="#a5a5a5" />
<text x="732.1" y="260.3" font-size="8.3" text-anchor="start" font-weight="normal" fill="#111111" stroke="#111111" stroke-width="0.12">2023/24 уч.г.</text>
<text x="170.4" y="312.9" font-size="10" text-anchor="middle" font-weight="bold" fill="#111111">Средний первичный балл ОГЭ</text>
<line x1="41.10" y1="428.40" x2="55.60" y2="418.60" stroke="#a8a8a8" stroke-width="1.0"/>
<line x1="55.60" y1="418.60" x2="270.20" y2="418.60" stroke="#a8a8a8" stroke-width="1.0"/>
<text x="33.3" y="431.8" font-size="8.3" text-anchor="end" font-weight="normal" fill="#111111" stroke="#111111" stroke-width="0.12">0</text>
<line x1="38.50" y1="428.40" x2="41.10" y2="428.40" stroke="#a0a0a0" stroke-width="0.9"/>
<line x1="41.10" y1="410.20" x2="55.60" y2="400.52" stroke="#a8a8a8" stroke-width="1.0"/>
<line x1="55.60" y1="400.52" x2="270.20" y2="400.52" stroke="#a8a8a8" stroke-width="1.0"/>
<text x="33.3" y="413.8" font-size="8.3" text-anchor="end" font-weight="normal" fill="#111111" stroke="#111111" stroke-width="0.12">5</text>
<line x1="38.50" y1="410.20" x2="41.10" y2="410.20" stroke="#a0a0a0" stroke-width="0.9"/>
<line x1="41.10" y1="392.00" x2="55.60" y2="382.44" stroke="#a8a8a8" stroke-width="1.0"/>
<line x1="55.60" y1="382.44" x2="270.20" y2="382.44" stroke="#a8a8a8" stroke-width="1.0"/>
<text x="33.3" y="395.9" font-size="8.3" text-anchor="end" font-weight="normal" fill="#111111" stroke="#111111" stroke-width="0.12">10</text>
<line x1="38.50" y1="392.00" x2="41.10" y2="392.00" stroke="#a0a0a0" stroke-width="0.9"/>
<line x1="41.10" y1="373.80" x2="55.60" y2="364.36" stroke="#a8a8a8" stroke-width="1.0"/>
<line x1="55.60" y1="364.36" x2="270.20" y2="364.36" stroke="#a8a8a8" stroke-width="1.0"/>
<text x="33.3" y="377.9" font-size="8.3" text-anchor="end" font-weight="normal" fill="#111111" stroke="#111111" stroke-width="0.12">15</text>
<line x1="38.50" y1="373.80" x2="41.10" y2="373.80" stroke="#a0a0a0" stroke-width="0.9"/>
<line x1="41.10" y1="355.60" x2="55.60" y2="346.28" stroke="#a8a8a8" stroke-width="1.0"/>
<line x1="55.60" y1="346.28" x2="270.20" y2="346.28" stroke="#a8a8a8" stroke-width="1.0"/>
<text x="33.3" y="359.9" font-size="8.3" text-anchor="end" font-weight="normal" fill="#111111" stroke="#111111" stroke-width="0.12">20</text>
<line x1="38.50" y1="355.60" x2="41.10" y2="355.60" stroke="#a0a0a0" stroke-width="0.9"/>
<line x1="41.10" y1="337.40" x2="55.60" y2="328.20" stroke="#a8a8a8" stroke-width="1.0"/>
<line x1="55.60" y1="328.20" x2="270.20" y2="328.20" stroke="#a8a8a8" stroke-width="1.0"/>
<text x="33.3" y="342.0" font-size="8.3" text-anchor="end" font-weight="normal" fill="#111111" stroke="#111111" stroke-width="0.12">25</text>
<line x1="38.50" y1="337.40" x2="41.10" y2="337.40" stroke="#a0a0a0" stroke-width="0.9"/>
<line x1="41.10" y1="337.40" x2="41.10" y2="430.20" stroke="#a0a0a0" stroke-width="1.1"/>
<line x1="41.10" y1="428.50" x2="256.30" y2="428.50" stroke="#b8b0a8" stroke-width="1.0"/>
<line x1="256.30" y1="428.60" x2="270.20" y2="418.60" stroke="#bfbfbf" stroke-width="0.8"/>
<line x1="112.40" y1="428.60" x2="112.40" y2="431.00" stroke="#bfbfbf" stroke-width="0.8"/>
<line x1="184.40" y1="428.60" x2="184.40" y2="431.00" stroke="#bfbfbf" stroke-width="0.8"/>
<polygon points="72.00,346.24 76.80,342.94 76.80,421.70 72.00,425.00" fill="#5070aa" />
<polygon points="57.30,346.24 62.10,342.94 76.80,342.94 72.00,346.24" fill="#6283c0" />
<rect x="57.30" y="346.24" width="14.70" height="78.76" fill="#8eaadb" />
<polygon points="89.00,344.45 93.80,341.15 93.80,421.70 89.00,425.00" fill="#b35516" />
<polygon points="72.00,344.45 76.80,341.15 93.80,341.15 89.00,344.45" fill="#c4621e" />
<rect x="72.00" y="344.45" width="17.00" height="80.55" fill="#ed7d31" />
<polygon points="105.10,338.36 109.90,335.06 109.90,421.70 105.10,425.00" fill="#808080" />
<polygon points="89.00,338.36 93.80,335.06 109.90,335.06 105.10,338.36" fill="#a5a5a5" />
<rect x="89.00" y="338.36" width="16.10" height="86.64" fill="#c8c8c8" />
<polygon points="144.10,374.88 149.00,371.58 149.00,421.70 144.10,425.00" fill="#5070aa" />
<polygon points="129.60,374.88 134.50,371.58 149.00,371.58 144.10,374.88" fill="#6283c0" />
<rect x="129.60" y="374.88" width="14.50" height="50.12" fill="#8eaadb" />
<polygon points="160.70,374.88 165.60,371.58 165.60,421.70 160.70,425.00" fill="#b35516" />
<polygon points="144.10,374.88 149.00,371.58 165.60,371.58 160.70,374.88" fill="#c4621e" />
<rect x="144.10" y="374.88" width="16.60" height="50.12" fill="#ed7d31" />
<polygon points="176.80,370.58 181.70,367.28 181.70,421.70 176.80,425.00" fill="#808080" />
<polygon points="160.70,370.58 165.60,367.28 181.70,367.28 176.80,370.58" fill="#a5a5a5" />
<rect x="160.70" y="370.58" width="16.10" height="54.42" fill="#c8c8c8" />
<polygon points="216.30,388.48 221.20,385.18 221.20,421.70 216.30,425.00" fill="#5070aa" />
<polygon points="200.90,388.48 205.80,385.18 221.20,385.18 216.30,388.48" fill="#6283c0" />
<rect x="200.90" y="388.48" width="15.40" height="36.52" fill="#8eaadb" />
<polygon points="232.20,387.41 237.10,384.11 237.10,421.70 232.20,425.00" fill="#b35516" />
<polygon points="216.30,387.41 221.20,384.11 237.10,384.11 232.20,387.41" fill="#c4621e" />
<rect x="216.30" y="387.41" width="15.90" height="37.59" fill="#ed7d31" />
<polygon points="248.40,386.34 253.30,383.04 253.30,421.70 248.40,425.00" fill="#808080" />
<polygon points="232.20,386.34 237.10,383.04 253.30,383.04 248.40,386.34" fill="#a5a5a5" />
<rect x="232.20" y="386.34" width="16.20" height="38.66" fill="#c8c8c8" />
<text x="64.4" y="356.9" font-size="8.3" text-anchor="middle" font-weight="normal" fill="#1f3864" stroke="#1f3864" stroke-width="0.12">22</text>
<text x="81.3" y="340.2" font-size="8.3" text-anchor="middle" font-weight="normal" fill="#111111" stroke="#111111" stroke-width="0.12">22,5</text>
<text x="107.8" y="330.9" font-size="8.3" text-anchor="middle" font-weight="normal" fill="#111111" stroke="#111111" stroke-width="0.12">24,2</text>
<text x="136.9" y="370.5" font-size="8.3" text-anchor="middle" font-weight="normal" fill="#111111" stroke="#111111" stroke-width="0.12">14</text>
<text x="154.0" y="370.5" font-size="8.3" text-anchor="middle" font-weight="normal" fill="#111111" stroke="#111111" stroke-width="0.12">14</text>
<text x="177.6" y="363.2" font-size="8.3" text-anchor="middle" font-weight="normal" fill="#111111" stroke="#111111" stroke-width="0.12">15,2</text>
<text x="210.3" y="385.0" font-size="8.3" text-anchor="middle" font-weight="normal" fill="#111111" stroke="#111111" stroke-width="0.12">10,2</text>
<text x="231.7" y="385.0" font-size="8.3" text-anchor="middle" font-weight="normal" fill="#111111" stroke="#111111" stroke-width="0.12">10,5</text>
<text x="252.7" y="379.6" font-size="8.3" text-anchor="middle" font-weight="normal" fill="#111111" stroke="#111111" stroke-width="0.12">10,8</text>
<text x="77.0" y="442.1" font-size="8.3" text-anchor="middle" font-weight="normal" fill="#111111" stroke="#111111" stroke-width="0.12">Физика</text>
<text x="148.5" y="442.1" font-size="8.3" text-anchor="middle" font-weight="normal" fill="#111111" stroke="#111111" stroke-width="0.12">Математика</text>
<text x="220.0" y="442.1" font-size="8.3" text-anchor="middle" font-weight="normal" fill="#111111" stroke="#111111" stroke-width="0.12">Информатика</text>
<rect x="278.00" y="364.90" width="4.40" height="4.40" fill="#8eaadb" />
<text x="284.3" y="369.9" font-size="8.3" text-anchor="start" font-weight="normal" fill="#111111" stroke="#111111" stroke-width="0.12">2021/22 уч.г.</text>
<rect x="278.00" y="380.90" width="4.40" height="4.40" fill="#ed7d31" />
<text x="284.3" y="385.9" font-size="8.3" text-anchor="start" font-weight="normal" fill="#111111" stroke="#111111" stroke-width="0.12">2022/23 уч.г.</text>
<rect x="278.00" y="397.10" width="4.40" height="4.40" fill="#d0d0d0" />
<text x="284.3" y="402.1" font-size="8.3" text-anchor="start" font-weight="normal" fill="#111111" stroke="#111111" stroke-width="0.12">2023/24 уч.г.</text>
<text x="610.6" y="315.1" font-size="10" text-anchor="middle" font-weight="bold" fill="#111111">Средний тестовый балл ЕГЭ</text>
<line x1="492.00" y1="418.70" x2="504.50" y2="410.40" stroke="#bcbcbc" stroke-width="1.0"/>
<line x1="504.50" y1="410.40" x2="704.00" y2="410.40" stroke="#bcbcbc" stroke-width="1.0"/>
<text x="484.9" y="422.4" font-size="8.3" text-anchor="end" font-weight="normal" fill="#111111" stroke="#111111" stroke-width="0.12">0</text>
<line x1="492.00" y1="406.63" x2="504.50" y2="398.33" stroke="#bcbcbc" stroke-width="1.0"/>
<line x1="504.50" y1="398.33" x2="704.00" y2="398.33" stroke="#bcbcbc" stroke-width="1.0"/>
<text x="484.9" y="410.3" font-size="8.3" text-anchor="end" font-weight="normal" fill="#111111" stroke="#111111" stroke-width="0.12">10</text>
<line x1="492.00" y1="394.56" x2="504.50" y2="386.26" stroke="#bcbcbc" stroke-width="1.0"/>
<line x1="504.50" y1="386.26" x2="704.00" y2="386.26" stroke="#bcbcbc" stroke-width="1.0"/>
<text x="484.9" y="398.2" font-size="8.3" text-anchor="end" font-weight="normal" fill="#111111" stroke="#111111" stroke-width="0.12">20</text>
<line x1="492.00" y1="382.49" x2="504.50" y2="374.19" stroke="#bcbcbc" stroke-width="1.0"/>
<line x1="504.50" y1="374.19" x2="704.00" y2="374.19" stroke="#bcbcbc" stroke-width="1.0"/>
<text x="484.9" y="386.2" font-size="8.3" text-anchor="end" font-weight="normal" fill="#111111" stroke="#111111" stroke-width="0.12">30</text>
<line x1="492.00" y1="370.41" x2="504.50" y2="362.11" stroke="#bcbcbc" stroke-width="1.0"/>
<line x1="504.50" y1="362.11" x2="704.00" y2="362.11" stroke="#bcbcbc" stroke-width="1.0"/>
<text x="484.9" y="374.1" font-size="8.3" text-anchor="end" font-weight="normal" fill="#111111" stroke="#111111" stroke-width="0.12">40</text>
<line x1="492.00" y1="358.34" x2="504.50" y2="350.04" stroke="#bcbcbc" stroke-width="1.0"/>
<line x1="504.50" y1="350.04" x2="704.00" y2="350.04" stroke="#bcbcbc" stroke-width="1.0"/>
<text x="484.9" y="362.0" font-size="8.3" text-anchor="end" font-weight="normal" fill="#111111" stroke="#111111" stroke-width="0.12">50</text>
<line x1="492.00" y1="346.27" x2="504.50" y2="337.97" stroke="#bcbcbc" stroke-width="1.0"/>
<line x1="504.50" y1="337.97" x2="704.00" y2="337.97" stroke="#bcbcbc" stroke-width="1.0"/>
<text x="484.9" y="349.9" font-size="8.3" text-anchor="end" font-weight="normal" fill="#111111" stroke="#111111" stroke-width="0.12">60</text>
<line x1="492.00" y1="334.20" x2="504.50" y2="325.90" stroke="#bcbcbc" stroke-width="1.0"/>
<line x1="504.50" y1="325.90" x2="704.00" y2="325.90" stroke="#bcbcbc" stroke-width="1.0"/>
<text x="484.9" y="337.9" font-size="8.3" text-anchor="end" font-weight="normal" fill="#111111" stroke="#111111" stroke-width="0.12">70</text>
<line x1="492.00" y1="334.20" x2="492.00" y2="419.20" stroke="#b0b0b0" stroke-width="1.1"/>
<line x1="492.00" y1="418.80" x2="690.70" y2="418.50" stroke="#bdbdbd" stroke-width="1.3"/>
<line x1="690.70" y1="418.40" x2="704.00" y2="410.60" stroke="#bfbfbf" stroke-width="0.8"/>
<line x1="558.20" y1="418.60" x2="558.20" y2="421.00" stroke="#bfbfbf" stroke-width="0.8"/>
<line x1="624.40" y1="418.60" x2="624.40" y2="421.00" stroke="#bfbfbf" stroke-width="0.8"/>
<polygon points="521.50,348.52 526.20,345.02 526.20,412.10 521.50,415.60" fill="#5070aa" />
<polygon points="507.10,348.52 511.80,345.02 526.20,345.02 521.50,348.52" fill="#6283c0" />
<rect x="507.10" y="348.52" width="14.40" height="67.08" fill="#8eaadb" />
<polygon points="536.10,354.07 540.80,350.57 540.80,412.10 536.10,415.60" fill="#b35516" />
<polygon points="521.50,354.07 526.20,350.57 540.80,350.57 536.10,354.07" fill="#c4621e" />
<rect x="521.50" y="354.07" width="14.60" height="61.53" fill="#ed7d31" />
<polygon points="551.30,338.48 556.00,334.98 556.00,412.10 551.30,415.60" fill="#808080" />
<polygon points="536.10,338.48 540.80,334.98 556.00,334.98 551.30,338.48" fill="#a5a5a5" />
<rect x="536.10" y="338.48" width="15.20" height="77.12" fill="#c8c8c8" />
<polygon points="587.80,347.10 592.40,343.60 592.40,412.10 587.80,415.60" fill="#5070aa" />
<polygon points="573.30,347.10 577.90,343.60 592.40,343.60 587.80,347.10" fill="#6283c0" />
<rect x="573.30" y="347.10" width="14.50" height="68.50" fill="#8eaadb" />
<polygon points="602.70,349.35 607.30,345.85 607.30,412.10 602.70,415.60" fill="#b35516" />
<polygon points="587.80,349.35 592.40,345.85 607.30,345.85 602.70,349.35" fill="#c4621e" />
<rect x="587.80" y="349.35" width="14.90" height="66.25" fill="#ed7d31" />
<polygon points="617.60,340.72 622.20,337.22 622.20,412.10 617.60,415.60" fill="#808080" />
<polygon points="602.70,340.72 607.30,337.22 622.20,337.22 617.60,340.72" fill="#a5a5a5" />
<rect x="602.70" y="340.72" width="14.90" height="74.88" fill="#c8c8c8" />
<polygon points="653.90,343.91 658.50,340.41 658.50,412.10 653.90,415.60" fill="#5070aa" />
<polygon points="639.90,343.91 644.50,340.41 658.50,340.41 653.90,343.91" fill="#6283c0" />
<rect x="639.90" y="343.91" width="14.00" height="71.69" fill="#8eaadb" />
<polygon points="669.10,344.62 673.70,341.12 673.70,412.10 669.10,415.60" fill="#b35516" />
<polygon points="653.90,344.62 658.50,341.12 673.70,341.12 669.10,344.62" fill="#c4621e" />
<rect x="653.90" y="344.62" width="15.20" height="70.98" fill="#ed7d31" />
<polygon points="684.10,345.09 688.70,341.59 688.70,412.10 684.10,415.60" fill="#808080" />
<polygon points="669.10,345.09 673.70,341.59 688.70,341.59 684.10,345.09" fill="#a5a5a5" />
<rect x="669.10" y="345.09" width="15.00" height="70.51" fill="#c8c8c8" />
<text x="514.1" y="343.6" font-size="8.3" text-anchor="middle" font-weight="normal" fill="#111111" stroke="#111111" stroke-width="0.12">56,8</text>
<text x="528.8" y="365.3" font-size="8.3" text-anchor="middle" font-weight="normal" fill="#111111" stroke="#111111" stroke-width="0.12">52,1</text>
<text x="543.6" y="332.9" font-size="8.3" text-anchor="middle" font-weight="normal" fill="#111111" stroke="#111111" stroke-width="0.12">65,3</text>
<text x="580.0" y="341.8" font-size="8.3" text-anchor="middle" font-weight="normal" fill="#111111" stroke="#111111" stroke-width="0.12">58</text>
<text x="594.7" y="365.0" font-size="8.3" text-anchor="middle" font-weight="normal" fill="#111111" stroke="#111111" stroke-width="0.12">56,1</text>
<text x="610.4" y="335.1" font-size="8.3" text-anchor="middle" font-weight="normal" fill="#111111" stroke="#111111" stroke-width="0.12">63,4</text>
<text x="646.7" y="339.1" font-size="8.3" text-anchor="middle" font-weight="normal" fill="#111111" stroke="#111111" stroke-width="0.12">60,7</text>
<text x="661.0" y="365.0" font-size="8.3" text-anchor="middle" font-weight="normal" fill="#111111" stroke="#111111" stroke-width="0.12">60,1</text>
<text x="676.3" y="340.4" font-size="8.3" text-anchor="middle" font-weight="normal" fill="#111111" stroke="#111111" stroke-width="0.12">59,7</text>
<text x="524.2" y="432.2" font-size="8.3" text-anchor="middle" font-weight="normal" fill="#111111" stroke="#111111" stroke-width="0.12">Физика</text>
<text x="591.6" y="432.2" font-size="8.3" text-anchor="middle" font-weight="normal" fill="#111111" stroke="#111111" stroke-width="0.12">Математика</text>
<text x="657.7" y="432.2" font-size="8.3" text-anchor="middle" font-weight="normal" fill="#111111" stroke="#111111" stroke-width="0.12">Информатика</text>
<text x="591.6" y="441.6" font-size="8.3" text-anchor="middle" font-weight="normal" fill="#111111" stroke="#111111" stroke-width="0.12">(профиль)</text>
<rect x="726.30" y="366.50" width="4.40" height="4.40" fill="#8eaadb" />
<text x="732.9" y="371.5" font-size="8.3" text-anchor="start" font-weight="normal" fill="#111111" stroke="#111111" stroke-width="0.12">2021/22 уч.г.</text>
<rect x="726.30" y="380.50" width="4.40" height="4.40" fill="#ed7d31" />
<text x="732.9" y="385.5" font-size="8.3" text-anchor="start" font-weight="normal" fill="#111111" stroke="#111111" stroke-width="0.12">2022/23 уч.г.</text>
<rect x="726.30" y="394.50" width="4.40" height="4.40" fill="#d0d0d0" />
<text x="732.9" y="399.5" font-size="8.3" text-anchor="start" font-weight="normal" fill="#111111" stroke="#111111" stroke-width="0.12">2023/24 уч.г.</text>
</svg>
</body></html>
